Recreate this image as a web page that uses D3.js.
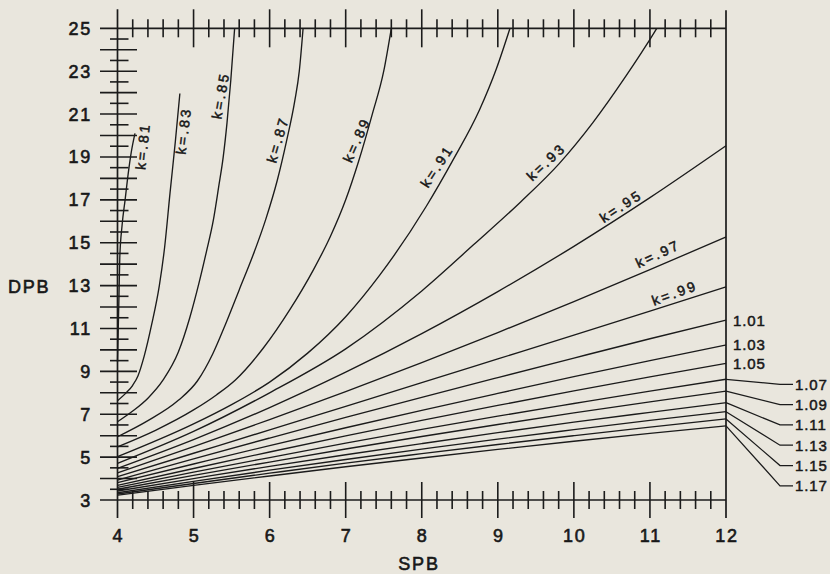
<!DOCTYPE html>
<html>
<head>
<meta charset="utf-8">
<script src="https://cdn.jsdelivr.net/npm/d3@7"></script>
<style>
  html, body { margin: 0; padding: 0; background: #e9e6dd; }
  svg { display: block; }
  text { font-family: "Liberation Sans", Arial, Helvetica, sans-serif; fill: #181818; stroke: #181818; paint-order: stroke; }
</style>
</head>
<body>
<svg id="chart" width="830" height="574"></svg>
<script>
// Axis ticks
const xTicks = [4, 5, 6, 7, 8, 9, 10, 11, 12];
const yTicks = [3, 5, 7, 9, 11, 13, 15, 17, 19, 21, 23, 25];

// Contours of constant k: [SPB, DPB] pairs
const k081 = [[4,9.45],[4.01,11.0],[4.02,12.6],[4.03,14.3],[4.06,15.8],[4.1,17.0],[4.14,18.2],[4.18,19.2],[4.23,20.1]];
const k083 = [[4,7.63],[4.1,7.95],[4.2,8.35],[4.27,8.8],[4.35,9.7],[4.45,11.2],[4.55,13.0],[4.62,14.8],[4.69,17.3],[4.76,19.7],[4.82,21.96]];
const k085 = [[4,6.65],[4.2,7.15],[4.4,7.75],[4.6,8.6],[4.8,9.9],[4.95,11.5],[5.07,13.1],[5.17,14.6],[5.26,16.05],[5.33,17.6],[5.39,19.0],[5.44,20.6],[5.49,22.6],[5.54,25]];
const k087 = [[4,5.95],[4.4,6.7],[4.8,7.65],[5.05,8.55],[5.25,9.8],[5.42,11.2],[5.6,12.8],[5.78,14.4],[5.95,16.1],[6.1,17.9],[6.22,19.7],[6.33,21.6],[6.39,23.0],[6.44,25]];
const k089 = [[4,5.48],[4.5,6.25],[5,7.2],[5.3,7.9],[5.55,8.6],[5.92,10.1],[6.27,11.9],[6.57,13.7],[6.8,15.3],[7.0,17.0],[7.17,18.8],[7.35,21.0],[7.5,23.0],[7.6,25]];
const k091 = [[4,5.02],[5,6.55],[5.5,7.45],[6,8.5],[6.5,9.85],[7,11.55],[7.45,13.5],[8.06,16.7],[8.41,18.85],[8.76,21.2],[8.98,23.1],[9.16,25]];
const k093 = [[4,4.71],[5,6.2],[6,8.0],[7,10.05],[8,12.75],[8.68,14.9],[9.3,16.9],[9.81,18.7],[10.25,20.6],[10.69,22.8],[10.95,24.2],[11.09,25]];
const k095 = [[4,4.48],[5,5.82],[6,7.31],[7,8.96],[8,10.76],[9,12.72],[10,14.83],[11,17.10],[12,19.52]];
const k097 = [[4,4.27],[5,5.49],[6,6.75],[7,8.06],[8,9.41],[9,10.81],[10,12.25],[11,13.74],[12,15.27]];
const k099 = [[4,4.09],[5,5.18],[6,6.27],[7,7.37],[8,8.47],[9,9.58],[10,10.69],[11,11.81],[12,12.94]];
const k101 = [[4,3.93],[5,4.92],[6,5.89],[7,6.85],[8,7.79],[9,8.71],[10,9.62],[11,10.52],[12,11.39]];
const k103 = [[4,3.81],[5,4.68],[6,5.54],[7,6.37],[8,7.18],[9,7.97],[10,8.75],[11,9.50],[12,10.23]];
const k105 = [[4,3.68],[5,4.47],[6,5.24],[7,5.99],[8,6.71],[9,7.41],[10,8.09],[11,8.74],[12,9.37]];
const k107 = [[4,3.59],[5,4.30],[6,4.98],[7,5.65],[8,6.29],[9,6.91],[10,7.50],[11,8.08],[12,8.63]];
const k109 = [[4,3.50],[5,4.15],[6,4.77],[7,5.38],[8,5.96],[9,6.52],[10,7.06],[11,7.58],[12,8.08]];
const k111 = [[4,3.42],[5,4.00],[6,4.57],[7,5.11],[8,5.63],[9,6.14],[10,6.63],[11,7.09],[12,7.54]];
const k113 = [[4,3.34],[5,3.87],[6,4.39],[7,4.89],[8,5.37],[9,5.84],[10,6.28],[11,6.71],[12,7.12]];
const k115 = [[4,3.28],[5,3.77],[6,4.25],[7,4.72],[8,5.16],[9,5.59],[10,6.00],[11,6.40],[12,6.78]];
const k117 = [[4,3.22],[5,3.68],[6,4.12],[7,4.55],[8,4.96],[9,5.36],[10,5.74],[11,6.11],[12,6.46]];

const kValues = [0.81, 0.83, 0.85, 0.87, 0.89, 0.91, 0.93, 0.95, 0.97, 0.99,
                 1.01, 1.03, 1.05, 1.07, 1.09, 1.11, 1.13, 1.15, 1.17];
const kSeries = [k081, k083, k085, k087, k089, k091, k093, k095, k097, k099,
                 k101, k103, k105, k107, k109, k111, k113, k115, k117];

// In-plot labels: where along each curve (SPB), offset from the curve, tilt
const inlineLabelLayout = [
  { k: 0.81, at: 4.20,  off: 15,   tilt: 84 },
  { k: 0.83, at: 4.775, off: 12,   tilt: 83 },
  { k: 0.85, at: 5.47,  off: -4,   tilt: 80 },
  { k: 0.87, at: 6.22,  off: -4,   tilt: 74 },
  { k: 0.89, at: 7.24,  off: -3,   tilt: 66 },
  { k: 0.91, at: 8.32,  off: -6,   tilt: 57 },
  { k: 0.93, at: 9.73,  off: -5.5, tilt: 43 },
  { k: 0.95, at: 10.68, off: -3.6, tilt: 33 },
  { k: 0.97, at: 11.17, off: -6.5, tilt: 25 },
  { k: 0.99, at: 11.37, off: -4.8, tilt: 20 }
];

const svg = d3.select("#chart");
const ink = "#1b1b1b";

const x = d3.scaleLinear().domain([4, 12]).range([117.5, 726]);
const y = d3.scaleLinear().domain([3, 25]).range([500, 28.3]);

const fmtK = v => (v < 1 ? "." + String(Math.round(v * 100)) : v.toFixed(2));

// ---- frame ----
const frame = svg.append("g").attr("stroke", ink).attr("stroke-width", 1.7).attr("fill", "none");
frame.append("line").attr("x1", x(4)).attr("x2", x(4)).attr("y1", y(25) - 19).attr("y2", y(3) + 18);
frame.append("line").attr("x1", x(12)).attr("x2", x(12)).attr("y1", y(25) - 18).attr("y2", y(3) + 18);
frame.append("line").attr("x1", x(4) - 17.5).attr("x2", x(12)).attr("y1", y(25)).attr("y2", y(25));
frame.append("line").attr("x1", x(4) - 17.5).attr("x2", x(12)).attr("y1", y(3)).attr("y2", y(3));

// ---- ticks on top and bottom (every 0.2, long at integers) ----
const ticks = svg.append("g").attr("stroke", ink).attr("stroke-width", 1.6);
const xMinor = d3.range(1, 40).map(i => 4 + i * 0.2).filter(v => Math.abs(v - Math.round(v)) > 1e-6);
const xMajor = xTicks.filter(v => v > 4 && v < 12);
ticks.selectAll(".tmin").data(xMinor).join("line")
  .attr("x1", d => x(d)).attr("x2", d => x(d))
  .attr("y1", y(25) - 9).attr("y2", y(25) + 9);
ticks.selectAll(".tmaj").data(xMajor).join("line")
  .attr("x1", d => x(d)).attr("x2", d => x(d))
  .attr("y1", y(25) - 19).attr("y2", y(25) + 19);
ticks.selectAll(".bmin").data(xMinor).join("line")
  .attr("x1", d => x(d)).attr("x2", d => x(d))
  .attr("y1", y(3) - 9).attr("y2", y(3) + 9);
ticks.selectAll(".bmaj").data(xMajor).join("line")
  .attr("x1", d => x(d)).attr("x2", d => x(d))
  .attr("y1", y(3) - 18).attr("y2", y(3) + 18);

// ---- ticks on the left (every 0.5, long at integers) ----
const yAll = d3.range(1, 44).map(i => 3 + i * 0.5);
ticks.selectAll(".lt").data(yAll).join("line")
  .attr("x1", d => Number.isInteger(d) ? x(4) - 17.5 : x(4) - 7.5)
  .attr("x2", d => Number.isInteger(d) ? x(4) + 19.5 : x(4) + 11)
  .attr("y1", d => y(d)).attr("y2", d => y(d));

// ---- tick labels ----
const lab = svg.append("g").style("font-size", "18px").style("letter-spacing", "1.8px")
  .attr("stroke-width", 0.6);
lab.selectAll(".yl").data(yTicks).join("text")
  .attr("x", 92).attr("y", d => y(d) + 6.5)
  .attr("text-anchor", "end").text(d => d);
lab.selectAll(".xl").data(xTicks).join("text")
  .attr("x", d => x(d) + 1).attr("y", 542)
  .attr("text-anchor", "middle").text(d => d);
lab.append("text").attr("x", 8).attr("y", y(13) + 7.5).text("DPB");
lab.append("text").attr("x", 419).attr("y", 570).attr("text-anchor", "middle").text("SPB");

// ---- contours ----
const line = d3.line().x(d => x(d[0])).y(d => y(d[1])).curve(d3.curveMonotoneX);
svg.append("g").attr("fill", "none").attr("stroke", ink).attr("stroke-width", 1.35)
  .selectAll("path").data(kSeries).join("path").attr("d", line);

// value on a contour at a given SPB
function dpbAt(pts, s) {
  for (let i = 1; i < pts.length; i++) {
    if (s <= pts[i][0]) {
      const [x0, y0] = pts[i - 1], [x1, y1] = pts[i];
      return y0 + (y1 - y0) * (s - x0) / (x1 - x0);
    }
  }
  return pts[pts.length - 1][1];
}

// ---- k labels inside the plot ----
const inl = svg.append("g").style("font-size", "14px").style("letter-spacing", "2.6px")
  .attr("stroke-width", 0.5);
inlineLabelLayout.forEach(L => {
  const pts = kSeries[kValues.indexOf(L.k)];
  const px = x(L.at), py = y(dpbAt(pts, L.at));
  inl.append("text")
    .attr("transform", `translate(${px},${py}) rotate(${-L.tilt})`)
    .attr("text-anchor", "middle").attr("dy", L.off)
    .text("k=" + fmtK(L.k));
});

// ---- k labels at the right edge ----
const rl = svg.append("g").style("font-size", "15px").style("letter-spacing", "0.9px")
  .attr("stroke-width", 0.5);
const leaders = svg.append("g").attr("stroke", ink).attr("stroke-width", 1.25).attr("fill", "none");
let stack = 0;
kValues.forEach((k, i) => {
  if (k < 1) return;
  const yEnd = y(kSeries[i][kSeries[i].length - 1][1]);
  if (k < 1.06) {
    rl.append("text").attr("x", x(12) + 7).attr("y", yEnd + 5.5).text(fmtK(k));
  } else {
    const ly = 384.3 + stack * 20.3;
    stack++;
    leaders.append("polyline")
      .attr("points", `${x(12)},${yEnd} ${x(12) + 54},${ly} ${x(12) + 67},${ly}`);
    rl.append("text").attr("x", x(12) + 69).attr("y", ly + 5.5).text(fmtK(k));
  }
});
</script>
</body>
</html>
